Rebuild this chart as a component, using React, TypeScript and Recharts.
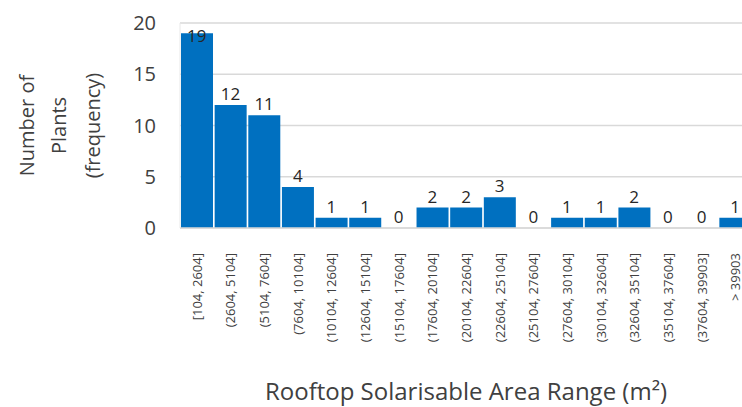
import React from "react";
import { ComposedChart, Bar, Line, XAxis, YAxis, CartesianGrid, LabelList } from "recharts";

// Rooftop area bins (m²) and how many plants fall in each
const ranges = [
  "[104, 2604]",
  "(2604, 5104]",
  "(5104, 7604]",
  "(7604, 10104]",
  "(10104, 12604]",
  "(12604, 15104]",
  "(15104, 17604]",
  "(17604, 20104]",
  "(20104, 22604]",
  "(22604, 25104]",
  "(25104, 27604]",
  "(27604, 30104]",
  "(30104, 32604]",
  "(32604, 35104]",
  "(35104, 37604]",
  "(37604, 39903]",
  "> 39903",
];
const plants = [19, 12, 11, 4, 1, 1, 0, 2, 2, 3, 0, 1, 1, 2, 0, 0, 1];
const yTicks = [0, 5, 10, 15, 20];

const data = ranges.map((range, i) => ({ range, plants: plants[i] }));

const FONT = "'Open Sans', sans-serif";
const BLUE = "#0070C0";
const GRID = "#d9d9d9";
const TEXT = "#404040";
const PLOT_TOP = 23;

const RangeTick = ({ x, y, payload }: any) => (
  <text
    x={x}
    y={y}
    transform={`rotate(-90, ${x}, ${y})`}
    textAnchor="end"
    dominantBaseline="central"
    fontSize={13}
    fill={TEXT}
    fontFamily={FONT}
  >
    {payload.value}
  </text>
);

// count labels ride on an invisible line so zero bins get one too;
// pushed inside the bar when they'd run into the top of the plot
const CountLabel = (props: any) => {
  const { x, y, value } = props;
  const baseline = Math.max(y - 5, PLOT_TOP + 19);
  return (
    <text
      x={x}
      y={baseline}
      textAnchor="middle"
      fontSize={17}
      fill="#262626"
      fontFamily={FONT}
    >
      {value}
    </text>
  );
};

const YTitle = (props: any) => {
  const vb = props.viewBox;
  const cy = vb.y + vb.height / 2;
  const lines = [
    { text: "Number of", x: 26 },
    { text: "Plants", x: 58 },
    { text: "(frequency)", x: 92 },
  ];
  return (
    <g>
      {lines.map((l) => (
        <text
          key={l.text}
          x={l.x}
          y={cy}
          transform={`rotate(-90, ${l.x}, ${cy})`}
          textAnchor="middle"
          dominantBaseline="central"
          fontSize={20}
          fill={TEXT}
          fontFamily={FONT}
        >
          {l.text}
        </text>
      ))}
    </g>
  );
};

const XTitle = (props: any) => {
  const vb = props.viewBox;
  return (
    <text
      x={vb.x + vb.width / 2}
      y={vb.y + 172}
      textAnchor="middle"
      fontSize={24}
      fill={TEXT}
      fontFamily={FONT}
    >
      Rooftop Solarisable Area Range (m²)
    </text>
  );
};

export default function App() {
  return (
    <div
      style={{
        position: "absolute",
        left: 0,
        top: 0,
        width: 742,
        height: 407,
        overflow: "hidden",
        background: "#fff",
      }}
    >
      <ComposedChart
        width={752}
        height={407}
        data={data}
        margin={{ top: PLOT_TOP, right: 0, bottom: 0, left: 0 }}
        barCategoryGap={1}
      >
        <CartesianGrid vertical={false} stroke={GRID} strokeWidth={1.5} />
        <XAxis
          dataKey="range"
          height={179}
          interval={0}
          tick={<RangeTick />}
          tickLine={false}
          tickSize={0}
          tickMargin={25}
          axisLine={{ stroke: GRID, strokeWidth: 1.5 }}
          label={{ content: XTitle }}
        />
        <YAxis
          width={180}
          domain={[0, 20]}
          ticks={yTicks}
          axisLine={{ stroke: "#e8e8e8" }}
          tickLine={false}
          tickSize={0}
          tickMargin={24}
          tick={{ fontSize: 20, fill: TEXT, fontFamily: FONT }}
          label={{ content: YTitle }}
        />
        <Bar dataKey="plants" fill={BLUE} isAnimationActive={false} />
        <Line
          dataKey="plants"
          stroke="none"
          dot={false}
          activeDot={false}
          isAnimationActive={false}
        >
          <LabelList dataKey="plants" content={CountLabel} />
        </Line>
      </ComposedChart>
    </div>
  );
}
